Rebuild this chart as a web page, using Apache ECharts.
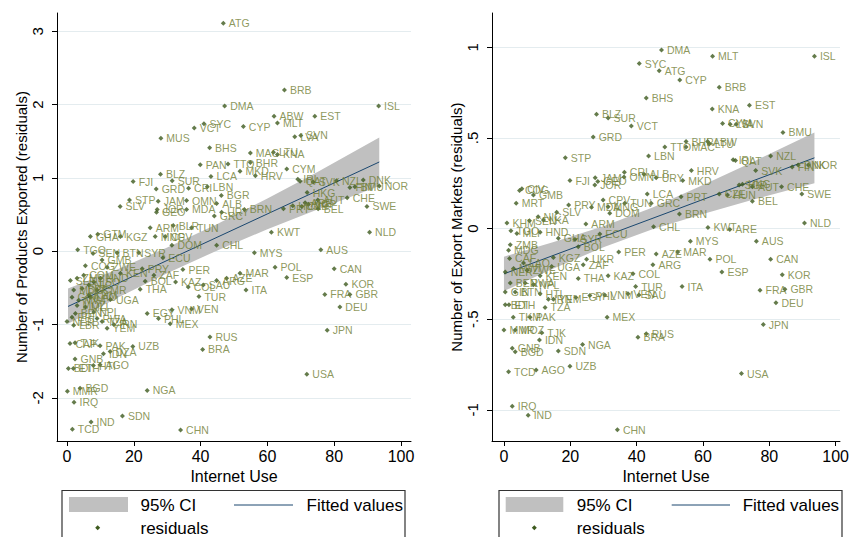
<!DOCTYPE html>
<html><head><meta charset="utf-8">
<script src="https://cdn.jsdelivr.net/npm/echarts@6/dist/echarts.min.js"></script>
<style>html,body{margin:0;padding:0;background:#fff}#c{width:852px;height:537px}</style>
</head><body><div id="c"></div><script>
// ---------- data ----------
const xTicks = [0, 20, 40, 60, 80, 100];
const leftYTicks = [-2, -1, 0, 1, 2, 3];
const rightYTicks = [-1, -0.5, 0, 0.5, 1];
const rightYTickLabels = ['-1', '-.5', '0', '.5', '1'];

const leftCodes = ['ATG','BRB','DMA','ISL','ABW','EST','MLT','SYC','VCT','CYP','MUS','SVN','LVA','BHS','MAC','LTU','KNA','PAN','TTO','BHR','MKD','CYM','BLZ','LCA','HRV','FJI','SUR','GRD','CRI','LBN','IRL','QAT','SVK','NZL','DNK','FIN','BMU','NOR','HKG','AUT','CHE','SWE','BGR','ALB','OMN','JAM','STP','SLV','GEO','JOR','MDA','GRC','URY','BRN','PRT','HUN','CZE','ARE','SGP','BEL','ARM','BLR','TUN','KWT','NLD','GHA','GTM','KGZ','MNG','CPV','DOM','CHL','TGO','SEN','BTN','SYR','ECU','MYS','AUS','GMB','COG','ZWE','KEN','COM','PRY','ZAF','BOL','PER','THA','SLE','ZMB','LSO','HND','NIC','MDG','BFA','CMR','GIN','MWI','KHM','LAO','UGA','MOZ','MLI','NPL','BEN','ERI','NER','RWA','LBR','TZA','IRN','YEM','EGY','PHL','VNM','VEN','MEX','KAZ','COL','SAU','AZE','ARG','MAR','POL','CAN','ESP','ITA','KOR','GBR','FRA','TUR','DEU','RUS','BRA','JPN','USA','CAF','TJK','PAK','UZB','IDN','DZA','GNB','BDI','ETH','HTI','AGO','BGD','MMR','IRQ','NGA','IND','SDN','TCD','CHN'];
const leftX = [46.8,65.1,47.2,93.3,62.0,74.2,63.0,41.0,38.1,52.8,28.1,70.0,68.2,42.7,54.9,61.8,63.0,39.9,48.2,54.9,51.8,65.8,28.0,43.1,56.4,19.8,31.5,26.7,36.4,42.0,69.1,69.8,73.7,80.7,88.7,84.7,86.2,93.5,71.9,75.1,83.9,89.8,46.2,44.8,35.8,27.3,18.7,15.9,26.8,27.0,35.8,44.1,46.3,53.1,64.8,67.6,70.3,71.3,72.3,75.2,24.9,31.8,37.3,61.2,90.6,7.0,9.2,16.0,26.4,29.4,31.4,44.8,3.2,7.8,15.0,21.5,28.7,56.1,76.0,10.5,5.5,12.0,16.0,5.0,22.5,26.0,23.4,34.7,21.9,1.0,3.0,8.0,10.0,6.5,2.0,4.5,9.0,1.5,3.5,6.5,7.0,13.0,3.0,5.5,8.0,2.5,1.5,0.0,9.0,2.0,10.5,14.0,12.0,24.0,27.4,31.4,37.3,30.9,32.5,36.3,40.8,47.8,44.8,51.8,62.3,80.0,65.8,53.6,83.5,84.7,77.2,39.5,81.7,42.8,40.6,77.9,71.8,0.9,2.4,9.9,19.7,10.9,12.9,2.4,0.4,1.9,7.9,9.9,3.9,0.1,2.1,24.0,7.2,16.6,1.6,34.0];
const leftY = [3.11,2.20,1.98,1.98,1.84,1.84,1.75,1.74,1.68,1.70,1.54,1.58,1.56,1.41,1.34,1.35,1.32,1.18,1.19,1.21,1.09,1.12,1.05,1.02,1.03,0.95,0.96,0.85,0.86,0.88,0.98,0.955,0.945,0.96,0.97,0.87,0.88,0.89,0.80,0.70,0.73,0.61,0.76,0.65,0.69,0.68,0.70,0.61,0.53,0.57,0.57,0.48,0.53,0.57,0.58,0.62,0.61,0.66,0.64,0.58,0.32,0.35,0.32,0.26,0.26,0.20,0.23,0.20,0.20,0.20,0.08,0.08,0.02,-0.03,-0.02,-0.02,-0.09,-0.02,0.02,-0.12,-0.20,-0.22,-0.30,-0.33,-0.24,-0.33,-0.41,-0.25,-0.52,-0.40,-0.37,-0.42,-0.37,-0.46,-0.53,-0.51,-0.53,-0.63,-0.67,-0.60,-0.63,-0.66,-0.74,-0.76,-0.83,-0.85,-0.90,-0.96,-0.92,-1.01,-0.96,-1.00,-1.05,-0.85,-0.92,-0.80,-0.79,-0.99,-0.42,-0.49,-0.46,-0.37,-0.40,-0.30,-0.22,-0.24,-0.36,-0.53,-0.45,-0.59,-0.59,-0.62,-0.76,-1.17,-1.34,-1.08,-1.68,-1.26,-1.25,-1.29,-1.30,-1.40,-1.37,-1.47,-1.60,-1.60,-1.56,-1.55,-1.87,-1.91,-2.06,-1.90,-2.33,-2.25,-2.43,-2.44];

const rightCodes = ['DMA','MLT','ISL','SYC','ATG','CYP','BRB','BHS','KNA','EST','BLZ','SUR','VCT','CYM','LVA','SVN','BMU','GRD','BHR','ABW','TTO','MAC','LTU','LBN','STP','HRV','IRL','QAT','NZL','FIN','DNK','NOR','SVK','FJI','JAM','GEO','JOR','CRI','OMN','ALB','URY','MKD','SGP','HKG','AUT','CHE','COG','CIV','GMB','SWE','LCA','MRT','PRY','CPV','MDA','MNG','TUN','GRC','PRT','CZE','HUN','BEL','BRN','DOM','NIC','SLV','KHM','SEN','LKA','ARM','NLD','CHL','KWT','ARE','TGO','MLI','HND','GHA','SYR','ECU','MYS','AUS','ZMB','BOL','MDG','PER','AZE','MAR','CAF','KGZ','UKR','POL','CAN','LAO','ZAF','UGA','ARG','MWI','ZWE','NER','ESP','KEN','KAZ','COL','KOR','THA','BEN','RWA','NPL','ITA','TUR','FRA','GBR','GIN','BTN','HTI','VEN','SAU','VNM','PHL','EGY','YEM','IRN','DEU','BDI','ETH','TZA','TKM','PAK','MEX','JPN','MMR','MOZ','TJK','RUS','BRA','IDN','NGA','GNB','BGD','SDN','UZB','AGO','TCD','USA','IRQ','IND','CHN'];
const rightX = [47.5,62.9,93.6,40.8,46.8,53.0,64.9,42.9,62.8,74.0,27.9,31.4,38.4,65.9,68.2,70.0,84.1,26.9,54.9,61.4,48.5,54.9,61.9,43.6,18.5,56.5,69.1,69.8,80.4,86.9,88.7,91.8,75.9,19.9,27.5,28.3,27.4,36.3,36.2,42.2,45.9,53.9,70.9,71.9,74.9,83.7,4.7,5.4,8.9,89.8,43.2,3.7,19.5,29.9,26.4,31.4,36.4,44.4,53.4,64.9,67.4,74.9,52.9,31.9,10.3,15.9,0.9,7.7,11.9,24.7,90.6,45.1,61.5,68.1,2.1,3.9,10.9,16.4,21.4,28.9,56.2,76.1,1.9,22.4,1.4,34.6,45.9,52.4,1.7,14.9,24.9,62.1,80.4,5.9,23.9,14.4,44.9,2.9,7.0,0.4,65.7,10.9,31.4,38.9,83.9,22.4,1.9,6.4,8.9,53.7,39.7,77.2,84.7,0.4,3.4,10.9,37.4,40.7,30.4,25.9,21.7,14.9,13.4,82.0,0.4,1.5,12.4,2.8,7.9,31.1,78.2,0.0,3.4,11.4,42.9,40.4,10.7,23.7,2.5,3.4,16.4,19.9,9.7,1.4,71.6,2.5,7.3,34.2];
const rightY = [0.985,0.95,0.95,0.91,0.87,0.82,0.78,0.72,0.66,0.68,0.63,0.61,0.565,0.58,0.575,0.575,0.53,0.505,0.48,0.48,0.45,0.45,0.466,0.40,0.39,0.32,0.38,0.375,0.40,0.34,0.35,0.35,0.32,0.265,0.28,0.26,0.24,0.31,0.285,0.30,0.28,0.265,0.24,0.245,0.23,0.23,0.21,0.22,0.185,0.19,0.19,0.14,0.13,0.157,0.117,0.12,0.139,0.139,0.175,0.19,0.185,0.15,0.08,0.084,0.065,0.09,0.03,0.043,0.047,0.025,0.03,0.01,0.006,-0.005,-0.012,-0.027,-0.02,-0.054,-0.06,-0.03,-0.07,-0.07,-0.09,-0.10,-0.12,-0.13,-0.14,-0.13,-0.165,-0.16,-0.17,-0.17,-0.17,-0.19,-0.20,-0.21,-0.20,-0.22,-0.23,-0.24,-0.24,-0.26,-0.26,-0.25,-0.255,-0.275,-0.30,-0.30,-0.31,-0.32,-0.32,-0.34,-0.335,-0.35,-0.35,-0.36,-0.36,-0.367,-0.367,-0.37,-0.38,-0.39,-0.39,-0.41,-0.42,-0.42,-0.435,-0.49,-0.49,-0.49,-0.53,-0.56,-0.56,-0.575,-0.58,-0.60,-0.615,-0.64,-0.66,-0.68,-0.676,-0.76,-0.78,-0.79,-0.80,-0.98,-1.03,-1.11];

// fitted lines (end points) and 95% CI band
const leftFitX = [0.3, 93.5];
const leftFitY = [-0.754, 1.217];
const leftCiX  = [0.3, 15, 30, 45, 60, 75, 93.5];
const leftCiLo = [-0.99, -0.64, -0.30, 0.01, 0.30, 0.57, 0.89];
const leftCiHi = [-0.51, -0.25, 0.05, 0.37, 0.72, 1.08, 1.55];

const rightFitX = [0.0, 93.6];
const rightFitY = [-0.25, 0.39];
const rightCiX  = [0.0, 15, 30, 45, 60, 75, 93.6];
const rightCiLo = [-0.345, -0.22, -0.103, -0.002, 0.08, 0.159, 0.25];
const rightCiHi = [-0.155, -0.074, 0.013, 0.118, 0.24, 0.367, 0.53];

// ---------- styles ----------
const F = 'Liberation Sans, Arial, sans-serif';
const BAND = '#c0c0c0', FIT = '#1a476f', MARK = '#3d5a1e', LAB = '#6f7d33', GRID = '#e4ecef';

function xAxisCfg(gi, min, max) {
  return {
    type: 'value', gridIndex: gi, min: min, max: max,
    name: 'Internet Use', nameLocation: 'middle', nameGap: 23,
    nameTextStyle: { fontSize: 16, color: '#000', fontFamily: F },
    axisLine: { show: true, onZero: false, lineStyle: { color: '#000', width: 1 } },
    axisTick: { show: true, length: 5, customValues: xTicks, lineStyle: { color: '#000' } },
    axisLabel: { customValues: xTicks, fontSize: 16, color: '#000', margin: 7, fontFamily: F },
    splitLine: { show: false }
  };
}
function yAxisCfg(gi, min, max, ticks, name, fmt) {
  return {
    type: 'value', gridIndex: gi, min: min, max: max,
    name: name, nameLocation: 'middle', nameGap: 21,
    nameTextStyle: { fontSize: 15, color: '#000', fontFamily: F },
    axisLine: { show: true, onZero: false, lineStyle: { color: '#000', width: 1 } },
    axisTick: { show: true, length: 5, customValues: ticks, lineStyle: { color: '#000' } },
    axisLabel: { customValues: ticks, rotate: 90, fontSize: 15, color: '#000', margin: 12, fontFamily: F, formatter: fmt },
    splitLine: { show: true, lineStyle: { color: GRID, width: 1 } }
  };
}

function bandSeries(gi, xs, lo, hi) {
  return {
    type: 'custom', xAxisIndex: gi, yAxisIndex: gi, silent: true, z: 1,
    data: xs.map((x, i) => [x, lo[i], hi[i]]),
    encode: { x: 0, y: [1, 2] },
    renderItem: function (params, api) {
      if (params.dataIndex !== 0) return null;
      const pts = [];
      for (let i = 0; i < xs.length; i++) pts.push(api.coord([xs[i], lo[i]]));
      for (let i = xs.length - 1; i >= 0; i--) pts.push(api.coord([xs[i], hi[i]]));
      return { type: 'polygon', shape: { points: pts }, style: { fill: BAND, stroke: null } };
    }
  };
}
function fitSeries(gi, xs, ys) {
  return {
    type: 'line', xAxisIndex: gi, yAxisIndex: gi, silent: true, z: 2,
    data: xs.map((x, i) => [x, ys[i]]), showSymbol: false, symbol: 'none',
    lineStyle: { color: FIT, width: 1 }
  };
}
function scatterSeries(gi, codes, xs, ys) {
  return {
    type: 'scatter', xAxisIndex: gi, yAxisIndex: gi, z: 3,
    data: codes.map((c, i) => [xs[i], ys[i], c]),
    symbol: 'diamond', symbolSize: 5,
    itemStyle: { color: MARK },
    label: { show: true, position: 'right', distance: 3, formatter: p => p.data[2],
      fontSize: 10.5, color: LAB, fontFamily: F },
    labelLayout: { hideOverlap: false }
  };
}

function legendGraphics(x0, gx0, gx1, cx, lx0, lx1, fx, mx) {
  const g = [];
  g.push({ type: 'rect', shape: { x: x0, y: 490.5, width: 343, height: 60 }, style: { fill: '#fff', stroke: '#333', lineWidth: 1.2 }, z: 10 });
  g.push({ type: 'rect', shape: { x: gx0, y: 497, width: gx1 - gx0, height: 15 }, style: { fill: BAND }, z: 11 });
  g.push({ type: 'text', x: cx, y: 505, style: { text: '95% CI', font: '17px ' + F, fill: '#000', textVerticalAlign: 'middle' }, z: 11 });
  g.push({ type: 'line', shape: { x1: lx0, y1: 505, x2: lx1, y2: 505 }, style: { stroke: FIT, lineWidth: 1 }, z: 11 });
  g.push({ type: 'text', x: fx, y: 505, style: { text: 'Fitted values', font: '17px ' + F, fill: '#000', textVerticalAlign: 'middle' }, z: 11 });
  g.push({ type: 'polygon', shape: { points: [[mx, 525.3], [mx + 2.5, 527.8], [mx, 530.3], [mx - 2.5, 527.8]] }, style: { fill: MARK }, z: 11 });
  g.push({ type: 'text', x: cx, y: 528, style: { text: 'residuals', font: '17px ' + F, fill: '#000', textVerticalAlign: 'middle' }, z: 11 });
  return g;
}

const chart = echarts.init(document.getElementById('c'), null, { renderer: 'svg', width: 852, height: 537 });
chart.setOption({
  backgroundColor: '#fff',
  animation: false,
  grid: [
    { left: 57, top: 13, width: 354, height: 428, containLabel: false },
    { left: 492, top: 13, width: 350, height: 428, containLabel: false }
  ],
  xAxis: [xAxisCfg(0, -3, 103), xAxisCfg(1, -3.6, 101.3)],
  yAxis: [
    yAxisCfg(0, -2.59, 3.25, leftYTicks, 'Number of Products Exported (residuals)', v => String(v)),
    yAxisCfg(1, -1.172, 1.189, rightYTicks, 'Number of Export Markets (residuals)', v => {
      const i = rightYTicks.findIndex(t => Math.abs(t - v) < 1e-9); return i >= 0 ? rightYTickLabels[i] : '';
    })
  ],
  series: [
    bandSeries(0, leftCiX, leftCiLo, leftCiHi),
    fitSeries(0, leftFitX, leftFitY),
    scatterSeries(0, leftCodes, leftX, leftY),
    bandSeries(1, rightCiX, rightCiLo, rightCiHi),
    fitSeries(1, rightFitX, rightFitY),
    scatterSeries(1, rightCodes, rightX, rightY)
  ],
  graphic: legendGraphics(62, 69, 128, 140.5, 234, 293, 306.5, 97.7)
    .concat(legendGraphics(499, 505.7, 563.3, 576.7, 671.7, 730, 742.7, 534.3))
});
</script></body></html>
